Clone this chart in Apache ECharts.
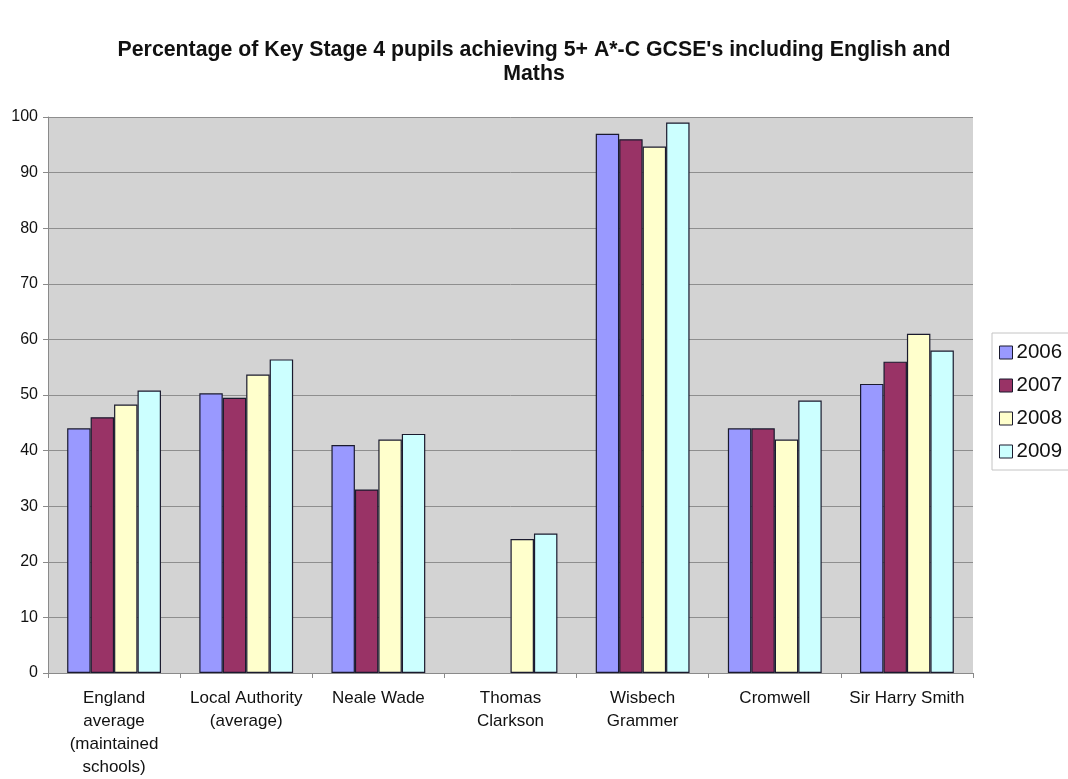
<!DOCTYPE html>
<html><head><meta charset="utf-8">
<script src="https://cdn.jsdelivr.net/npm/echarts@6/dist/echarts.min.js"></script>
<style>html,body{margin:0;padding:0;background:#fff}#c{width:1068px;height:779px}</style>
</head><body><div id="c"></div>
<script>
const categories = ["England\naverage\n(maintained\nschools)", "Local Authority\n(average)", "Neale Wade", "Thomas\nClarkson", "Wisbech\nGrammer", "Cromwell", "Sir Harry Smith"];
const years = ["2006", "2007", "2008", "2009"];
const v2006 = [44, 50.3, 41, null, 97, 44, 52];
const v2007 = [46, 49.5, 33, null, 96, 44, 56];
const v2008 = [48.3, 53.7, 42, 24.1, 94.7, 42, 61];
const v2009 = [50.8, 56.4, 43, 25.1, 99, 49, 58];
const yTicks = {min: 0, max: 100, interval: 10};
const colors = ["#9999FF", "#993366", "#FFFFCC", "#CCFFFF"];
const values = [v2006, v2007, v2008, v2009];

const chart = echarts.init(document.getElementById('c'), null, {renderer: 'canvas'});
const font = '"Liberation Sans", Arial, sans-serif';
chart.setOption({
  animation: false,
  backgroundColor: '#ffffff',
  title: {
    text: "Percentage of Key Stage 4 pupils achieving 5+ A*-C GCSE's including English and\nMaths",
    left: 'center', top: 33,
    textStyle: {fontFamily: font, fontSize: 21.3, fontWeight: 'bold', color: '#111', lineHeight: 24}
  },
  legend: {
    orient: 'vertical', left: 992, top: 333,
    itemWidth: 13, itemHeight: 13, itemGap: 12,
    padding: [9, 10, 8, 7],
    borderColor: '#c4c4c4', borderWidth: 1,
    icon: 'rect',
    itemStyle: {borderColor: '#1a1a2e', borderWidth: 1},
    textStyle: {fontFamily: font, fontSize: 20.5, color: '#111', padding: [0, 0, 0, -1]},
    data: years
  },
  grid: {left: 48, right: 95, top: 117, bottom: 101, show: true, backgroundColor: '#d3d3d3', borderWidth: 0},
  xAxis: {
    type: 'category', data: categories,
    axisLine: {lineStyle: {color: '#8a8a8a'}},
    axisTick: {show: true, length: 5, lineStyle: {color: '#8a8a8a'}},
    axisLabel: {fontFamily: font, fontSize: 17, color: '#111', lineHeight: 23, margin: 14, interval: 0}
  },
  yAxis: {
    type: 'value', min: yTicks.min, max: yTicks.max, interval: yTicks.interval,
    axisLine: {show: true, lineStyle: {color: '#8a8a8a'}},
    axisTick: {show: true, length: 5, lineStyle: {color: '#8a8a8a'}},
    splitLine: {lineStyle: {color: '#8e8e8e', width: 1}},
    axisLabel: {fontFamily: font, fontSize: 16, color: '#111', margin: 10}
  },
  series: years.map((y, i) => ({
    name: y, type: 'bar', data: values[i],
    barGap: '0%', barCategoryGap: '29%',
    itemStyle: {color: colors[i], borderColor: '#1a1a2e', borderWidth: 1.2}
  }))
});
</script></body></html>
